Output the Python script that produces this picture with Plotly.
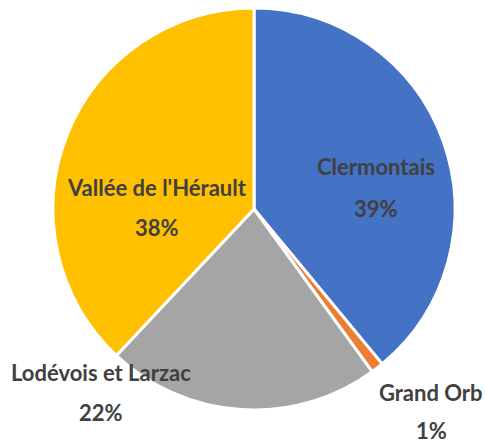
import plotly.graph_objects as go

labels = ["Clermontais", "Grand Orb", "Lodévois et Larzac", "Vallée de l'Hérault"]
values = [39, 1, 22, 38]
colors = ["#4472C4", "#ED7D31", "#A5A5A5", "#FFC000"]
pct_text = ["39%", "1%", "22%", "38%"]

# label centres in pixels (name line, percent line)
label_pos = [(376, 166, 208), (431, 392, 430), (101, 372, 412), (157, 187, 228)]

W, H = 485, 445
fig = go.Figure(go.Pie(
    labels=labels, values=values, sort=False, direction="clockwise", rotation=0,
    marker=dict(colors=colors, line=dict(color="white", width=3)),
    textinfo="none", hoverinfo="label+percent", showlegend=False,
    domain=dict(x=[53 / W, 455 / W], y=[1 - 410 / H, 1 - 8 / H]),
))

font = dict(family="Lato", size=22, color="#404040")
anns = []
for lab, pct, (px, py1, py2) in zip(labels, pct_text, label_pos):
    anns.append(dict(x=px / W, y=1 - py1 / H, xref="paper", yref="paper", text="<b>%s</b>" % lab,
                     showarrow=False, font=font, xanchor="center", yanchor="middle", borderpad=0))
    anns.append(dict(x=px / W, y=1 - py2 / H, xref="paper", yref="paper", text="<b>%s</b>" % pct,
                     showarrow=False, font=font, xanchor="center", yanchor="middle", borderpad=0))

fig.update_layout(width=W, height=H, margin=dict(l=0, r=0, t=0, b=0),
                  paper_bgcolor="white", plot_bgcolor="white", annotations=anns)
fig.write_html("out.html", config={"displayModeBar": False},
               post_script="document.body.style.margin='0';document.body.style.overflow='hidden';")
